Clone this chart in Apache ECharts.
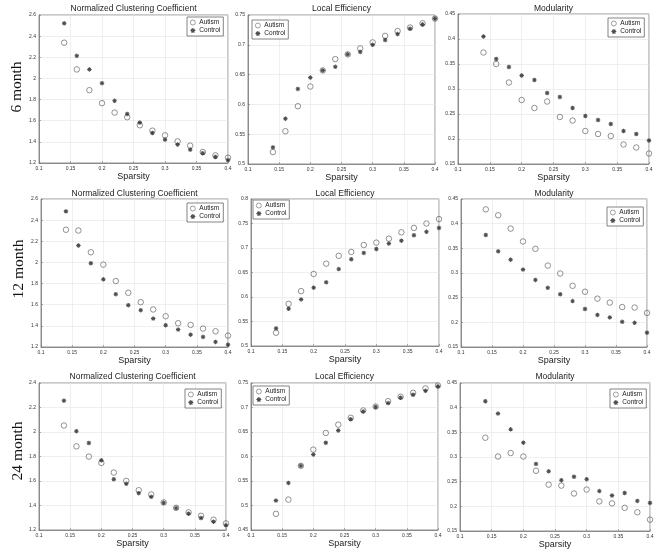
<!DOCTYPE html>
<html><head><meta charset="utf-8">
<script src="https://cdn.jsdelivr.net/npm/echarts@6/dist/echarts.min.js"></script>
<style>html,body{margin:0;padding:0;background:#fff}#c{width:666px;height:552px}</style>
</head><body><div id="c"></div>
<script>
const sparsity = [0.14,0.16,0.18,0.20,0.22,0.24,0.26,0.28,0.30,0.32,0.34,0.36,0.38,0.40];
const rowLabels = ['6 month','12 month','24 month'];
const panelTitles = ['Normalized Clustering Coefficient','Local Efficiency','Modularity'];
// 6 month
const ncc6Autism  = [2.338,2.085,1.889,1.766,1.677,1.633,1.557,1.506,1.462,1.405,1.364,1.304,1.272,1.250];
const ncc6Control = [2.521,2.214,2.085,1.955,1.788,1.664,1.582,1.484,1.421,1.374,1.326,1.292,1.257,1.228];
const le6Autism   = [0.520,0.555,0.597,0.630,0.657,0.676,0.684,0.694,0.704,0.715,0.723,0.729,0.736,0.744];
const le6Control  = [0.528,0.576,0.626,0.645,0.657,0.663,0.684,0.688,0.700,0.708,0.718,0.727,0.734,0.744];
const mod6Autism  = [0.373,0.350,0.313,0.278,0.262,0.275,0.244,0.237,0.216,0.210,0.206,0.189,0.183,0.171];
const mod6Control = [0.405,0.360,0.344,0.327,0.318,0.292,0.284,0.262,0.246,0.238,0.230,0.216,0.210,0.197];
// 12 month
const ncc12Autism  = [2.309,2.302,2.096,1.979,1.824,1.713,1.624,1.555,1.491,1.425,1.409,1.374,1.349,1.308];
const ncc12Control = [2.483,2.160,1.992,1.840,1.700,1.596,1.548,1.469,1.406,1.365,1.317,1.295,1.248,1.222];
const le12Autism   = [0.527,0.586,0.612,0.647,0.668,0.684,0.692,0.706,0.711,0.719,0.732,0.741,0.750,0.759];
const le12Control  = [0.536,0.576,0.595,0.619,0.630,0.657,0.677,0.690,0.698,0.709,0.715,0.726,0.733,0.741];
const mod12Autism  = [0.429,0.417,0.390,0.364,0.349,0.315,0.299,0.274,0.262,0.248,0.240,0.231,0.230,0.219];
const mod12Control = [0.377,0.344,0.327,0.307,0.286,0.270,0.257,0.243,0.227,0.215,0.210,0.201,0.199,0.179];
// 24 month
const ncc24Autism  = [2.053,1.883,1.799,1.747,1.669,1.601,1.525,1.490,1.425,1.381,1.344,1.316,1.284,1.254];
const ncc24Control = [2.256,2.007,1.910,1.769,1.614,1.577,1.501,1.471,1.422,1.379,1.333,1.298,1.268,1.238];
const le24Autism   = [0.483,0.512,0.581,0.614,0.648,0.665,0.679,0.694,0.702,0.713,0.722,0.730,0.739,0.745];
const le24Control  = [0.510,0.546,0.581,0.604,0.628,0.653,0.676,0.692,0.701,0.709,0.720,0.726,0.734,0.743];
const mod24Autism  = [0.339,0.301,0.308,0.301,0.272,0.244,0.242,0.226,0.234,0.210,0.206,0.197,0.188,0.173];
const mod24Control = [0.413,0.388,0.356,0.329,0.286,0.271,0.253,0.260,0.255,0.231,0.222,0.227,0.211,0.207];

const xTicks = {min:0.1, max:0.4, interval:0.05};
const yRanges = [
  [[1.2,2.6,0.2],[0.5,0.75,0.05],[0.15,0.45,0.05]],
  [[1.2,2.6,0.2],[0.5,0.8,0.05],[0.15,0.45,0.05]],
  [[1.2,2.4,0.2],[0.45,0.75,0.05],[0.15,0.45,0.05]]
];
const panelData = [
  [[ncc6Autism,ncc6Control],[le6Autism,le6Control],[mod6Autism,mod6Control]],
  [[ncc12Autism,ncc12Control],[le12Autism,le12Control],[mod12Autism,mod12Control]],
  [[ncc24Autism,ncc24Control],[le24Autism,le24Control],[mod24Autism,mod24Control]]
];

// layout
const gridBoxes = [
  [[39,15,189,148],[248,15,187,149],[458,14,191,150]],
  [[41,199,187,148],[251,199,188,147],[461,199,186,148]],
  [[39,383,187,147],[251,383,187,147],[460,383,190,148]]
];
const legendPos = [
  [[187,17],[252,20],[608,18]],
  [[187,203],[253,200],[607,207]],
  [[185,389],[253,386],[610,389]]
];
const titleTops = [4,189,372];
const rowLabelPos = [[17,87],[19,269],[18,451]];

const asterisk = 'path://M-0.22,-1L0.22,-1L0.22,1L-0.22,1Z M-1,-0.22L1,-0.22L1,0.22L-1,0.22Z M-0.55,-0.85L0.85,0.55L0.55,0.85L-0.85,-0.55Z M-0.85,0.55L0.55,-0.85L0.85,-0.55L-0.55,0.85Z';
const FONT = 'Liberation Sans, Arial, sans-serif';

const grids=[], xAxes=[], yAxes=[], series=[], titles=[], legends=[];
let gi = 0;
for (let r=0;r<3;r++){
  for (let c=0;c<3;c++){
    const [l,t,w,h] = gridBoxes[r][c];
    grids.push({left:l, top:t, width:w, height:h, show:true, borderColor:'#777', borderWidth:0.8, backgroundColor:'#fff'});
    const axCommon = {
      axisLine:{show:true, lineStyle:{color:'#777', width:0.8}},
      axisTick:{show:true, inside:true, length:2, lineStyle:{color:'#777', width:0.6}},
      splitLine:{show:true, lineStyle:{color:'#e4e4e4', width:0.6}},
    };
    xAxes.push(Object.assign({type:'value', gridIndex:gi, min:xTicks.min, max:xTicks.max, interval:xTicks.interval,
      name:'Sparsity', nameLocation:'middle', nameGap:9,
      nameTextStyle:{fontSize:9, color:'#222', fontFamily:FONT}}, axCommon,
      {axisLabel:{fontSize:5, color:'#333', fontFamily:FONT, margin:3, showMinLabel:true, showMaxLabel:true}}));
    const yr = yRanges[r][c];
    yAxes.push(Object.assign({type:'value', gridIndex:gi, min:yr[0], max:yr[1], interval:yr[2]}, axCommon,
      {axisLabel:{fontSize:5, color:'#333', fontFamily:FONT, margin:3, showMinLabel:true, showMaxLabel:true}}));
    const [aut, con] = panelData[r][c];
    series.push({name:'Autism', type:'scatter', xAxisIndex:gi, yAxisIndex:gi,
      data: sparsity.map((x,i)=>[x,aut[i]]), symbol:'circle', symbolSize:5.5,
      itemStyle:{color:'rgba(255,255,255,0)', borderColor:'#555', borderWidth:0.8}, z:3});
    series.push({name:'Control', type:'scatter', xAxisIndex:gi, yAxisIndex:gi,
      data: sparsity.map((x,i)=>[x,con[i]]), symbol:asterisk, symbolSize:4.5,
      itemStyle:{color:'#222'}, z:4});
    titles.push({text:panelTitles[c], left:l + w/2, top:titleTops[r], textAlign:'center', padding:0,
      textStyle:{fontSize:8.5, fontWeight:'normal', color:'#222', fontFamily:FONT}});
    const [ll,lt] = legendPos[r][c];
    legends.push({data:[
        {name:'Autism', icon:'circle', itemStyle:{color:'rgba(255,255,255,0)', borderColor:'#555', borderWidth:0.7}},
        {name:'Control', icon:asterisk, itemStyle:{color:'#222', borderWidth:0}}],
      orient:'vertical', left:ll, top:lt, padding:[2,3,2,3],
      borderColor:'#666', borderWidth:0.8, backgroundColor:'#fff', itemGap:1, itemWidth:5, itemHeight:5,
      selectedMode:false, textStyle:{fontSize:6.5, color:'#222', fontFamily:FONT, padding:[0,0,0,-1]}});
    gi++;
  }
}
const graphics = rowLabels.map((txt,i)=>({type:'text', x:rowLabelPos[i][0], y:rowLabelPos[i][1], rotation:Math.PI/2,
  style:{text:txt, font:'15.5px "Liberation Serif", "Times New Roman", serif', fill:'#111', textAlign:'center', textVerticalAlign:'middle'}}));

const chart = echarts.init(document.getElementById('c'));
chart.setOption({animation:false, backgroundColor:'#fff', title:titles, legend:legends, grid:grids, xAxis:xAxes, yAxis:yAxes, series:series, graphic:graphics});
</script></body></html>
